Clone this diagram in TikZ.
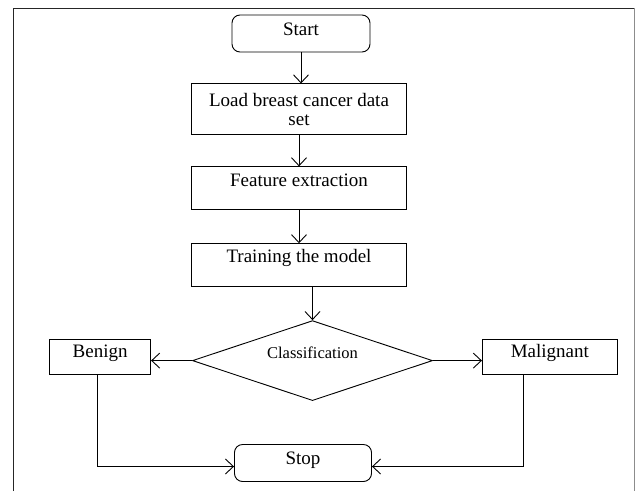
\documentclass[tikz,border=0pt]{standalone}
\usepackage{fontspec}
\setmainfont{Liberation Serif}
\usetikzlibrary{positioning,arrows.meta,shapes.geometric}
\usetikzlibrary{calc}

\begin{document}
\begin{tikzpicture}[x=1pt,y=-1pt]
	\tikzset{
	    proc/.style={draw, line width=0.9pt, minimum width=215pt, inner sep=0pt,
	         align=center, font=\fontsize{19}{19}\selectfont},
	    term/.style={draw, line width=0.9pt, rounded corners=8pt, minimum width=138pt,
	         inner sep=0pt, text height=20pt, text depth=17pt, font=\fontsize{19}{19}\selectfont},
	    outcome/.style={proc, text height=18pt, text depth=17pt},
	    arr/.style={-{Straight Barb[length=8pt,width=15pt]}, line width=0.9pt}
	}
	\useasboundingbox (0,0) rectangle (635,491);

	% table frame
	\draw[line width=1pt, black!85] (13,491) -- (13,8) -- (634,8);
	\draw[line width=1pt, black!45] (634,8) -- (634,491);

	\node[term] (start) at (301,33.5) {Start};
	\node[proc, minimum height=51pt, below=31pt of start, xshift=-2pt] (load) {Load breast cancer data\\set};
	\node[proc, text height=20pt, text depth=23pt, below=31pt of load] (feature) {Feature extraction};
	\node[proc, text height=19pt, text depth=24pt, below=33pt of feature] (training) {Training the model};
	\node[draw, line width=0.9pt, diamond, aspect=3, inner sep=0pt, minimum width=240pt,
	      minimum height=80pt, text height=10pt, text depth=14pt,
	      font=\fontsize{16.5}{16.5}\selectfont,
	      below=33pt of training, xshift=13.5pt] (classify) {Classification};
	\node[outcome, minimum width=101pt, left=41pt of classify, yshift=3.5pt] (benign) {Benign};
	\node[outcome, minimum width=135pt, right=49pt of classify, yshift=3.5pt] (malignant) {Malignant};
	\node[term, minimum width=137pt, below=43pt of classify, xshift=-9.5pt] (stop) {Stop};

	\draw[arr] (start) -- (start |- load.north);
	\draw[arr] (load) -- (feature);
	\draw[arr] (feature) -- (training);
	\draw[arr] (training.south -| classify.north) -- (classify.north);
	\draw[arr] (classify.west) -- (classify.west -| benign.east);
	\draw[arr] (classify.east) -- (classify.east -| malignant.west);
	\draw[arr] ([xshift=-2.5pt]benign.south) |- ([yshift=-3.5pt]stop.west);
	\draw[arr] ([xshift=-26.5pt]malignant.south) |- ([yshift=-3.5pt]stop.east);
\end{tikzpicture}
\end{document}
